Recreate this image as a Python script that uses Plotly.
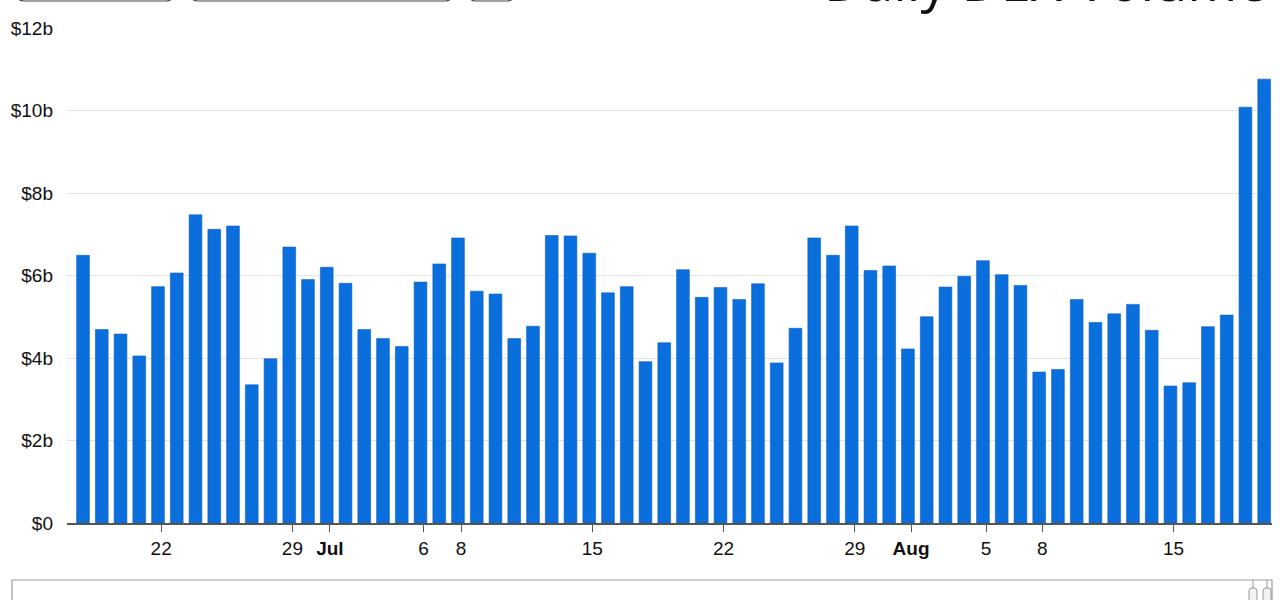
import pandas as pd
import plotly.graph_objects as go

# daily DEX volume, in billions of USD (Jun 18 -> Aug 20)
start_date = '2023-06-18'
volume_b = [6.49, 4.69, 4.58, 4.05, 5.73, 6.06, 7.47, 7.12, 7.20, 3.35,
            3.98, 6.69, 5.90, 6.20, 5.81, 4.69, 4.47, 4.28, 5.84, 6.28,
            6.91, 5.62, 5.55, 4.47, 4.77, 6.97, 6.96, 6.54, 5.58, 5.73,
            3.91, 4.37, 6.14, 5.47, 5.71, 5.42, 5.80, 3.88, 4.72, 6.91,
            6.49, 7.20, 6.12, 6.23, 4.22, 5.00, 5.72, 5.98, 6.36, 6.02,
            5.76, 3.66, 3.72, 5.42, 4.86, 5.07, 5.30, 4.67, 3.32, 3.40,
            4.76, 5.04, 10.08, 10.76]
dates = pd.date_range(start_date, periods=len(volume_b), freq='D')

tick_dates = ['2023-06-22', '2023-06-29', '2023-07-01', '2023-07-06', '2023-07-08',
              '2023-07-15', '2023-07-22', '2023-07-29', '2023-08-01', '2023-08-05',
              '2023-08-08', '2023-08-15']
tick_text = ['22', '29', '<b>Jul</b>', '6', '8', '15', '22', '29', '<b>Aug</b>',
             '5', '8', '15']
y_ticks = [0, 2, 4, 6, 8, 10, 12]
y_text = ['$0', '$2b', '$4b', '$6b', '$8b', '$10b', '$12b']

# ticks sit a few hours after the bar centres in the original
tick_pos = pd.to_datetime(tick_dates) + pd.Timedelta(hours=4)

# pixel helpers (plot area: x 67..1272, y 28..523)
W, H = 1280, 600
L, R, T, B = 67, 8, 28, 77
pw, ph = W - L - R, H - T - B

def px(x):
    return (x - L) / pw

def py(y):
    return (H - B - y) / ph

def rounded_box(x0, y0, x1, y1, r=6):
    a, b, c, d = px(x0), py(y0), px(x1), py(y1)
    rx, ry = r / pw, r / ph
    return (f'M {a + rx},{b} L {c - rx},{b} Q {c},{b} {c},{b - ry} '
            f'L {c},{d + ry} Q {c},{d} {c - rx},{d} L {a + rx},{d} '
            f'Q {a},{d} {a},{d + ry} L {a},{b - ry} Q {a},{b} {a + rx},{b} Z')

fig = go.Figure()
fig.add_trace(go.Bar(
    x=dates,
    y=volume_b,
    marker=dict(color='#0a6edc', line=dict(color='#0a62c8', width=0.6)),
    name='Volume',
))

shapes = []
# range selector buttons, mostly cut off above the picture
for x0, x1 in [(17, 173), (191, 452), (469, 514)]:
    shapes.append(dict(type='path', xref='paper', yref='paper',
                       path=rounded_box(x0, -40, x1, 1, r=7),
                       line=dict(color='#444444', width=1.2), fillcolor='rgba(0,0,0,0)'))
# navigator outline
shapes.append(dict(type='rect', xref='paper', yref='paper',
                   x0=px(12), x1=px(1272), y0=py(640), y1=py(580),
                   line=dict(color='#9a9a9a', width=1.2), fillcolor='rgba(0,0,0,0)'))
# navigator handles
for hx in [1253, 1267]:
    shapes.append(dict(type='line', xref='paper', yref='paper',
                       x0=px(hx), x1=px(hx), y0=py(580), y1=py(588),
                       line=dict(color='#9a9a9a', width=1)))
    shapes.append(dict(type='path', xref='paper', yref='paper',
                       path=rounded_box(hx - 4, 588, hx + 4, 615, r=3),
                       line=dict(color='#9a9a9a', width=1), fillcolor='#f2f2f2'))

fig.update_layout(
    width=W, height=H,
    margin=dict(l=L, r=R, t=T, b=B),
    paper_bgcolor='white', plot_bgcolor='white',
    bargap=0.32,
    showlegend=False,
    font=dict(family='Liberation Sans, Arial, sans-serif', size=19, color='#111111'),
    shapes=shapes,
    annotations=[dict(text='Daily DEX Volume', xref='paper', yref='paper',
                      x=px(1270), y=py(19), xanchor='right', yanchor='bottom',
                      showarrow=False,
                      font=dict(family='Open Sans, Noto Sans, sans-serif', size=54, color='#111111'))],
)
fig.update_xaxes(
    type='date',
    range=['2023-06-17 03:30', '2023-08-20 10:00'],
    tickvals=tick_pos, ticktext=tick_text,
    ticks='outside', ticklen=7, tickcolor='#555555', tickwidth=1,
    showline=True, linecolor='#555555', linewidth=2,
    showgrid=False, zeroline=False,
    tickfont=dict(size=19, color='#111111'),
)
fig.update_yaxes(
    range=[0, 12], tickvals=y_ticks, ticktext=y_text,
    showgrid=True, gridcolor='#e3e3e3', gridwidth=1,
    zeroline=False, showline=False,
    ticklabelstandoff=13,
    tickfont=dict(size=19, color='#111111'),
)

# page has a default 8px body margin; drop it so the figure sits at 0,0
fig.write_html('out.html', config={'displayModeBar': False},
               post_script="document.body.style.margin='0';")
